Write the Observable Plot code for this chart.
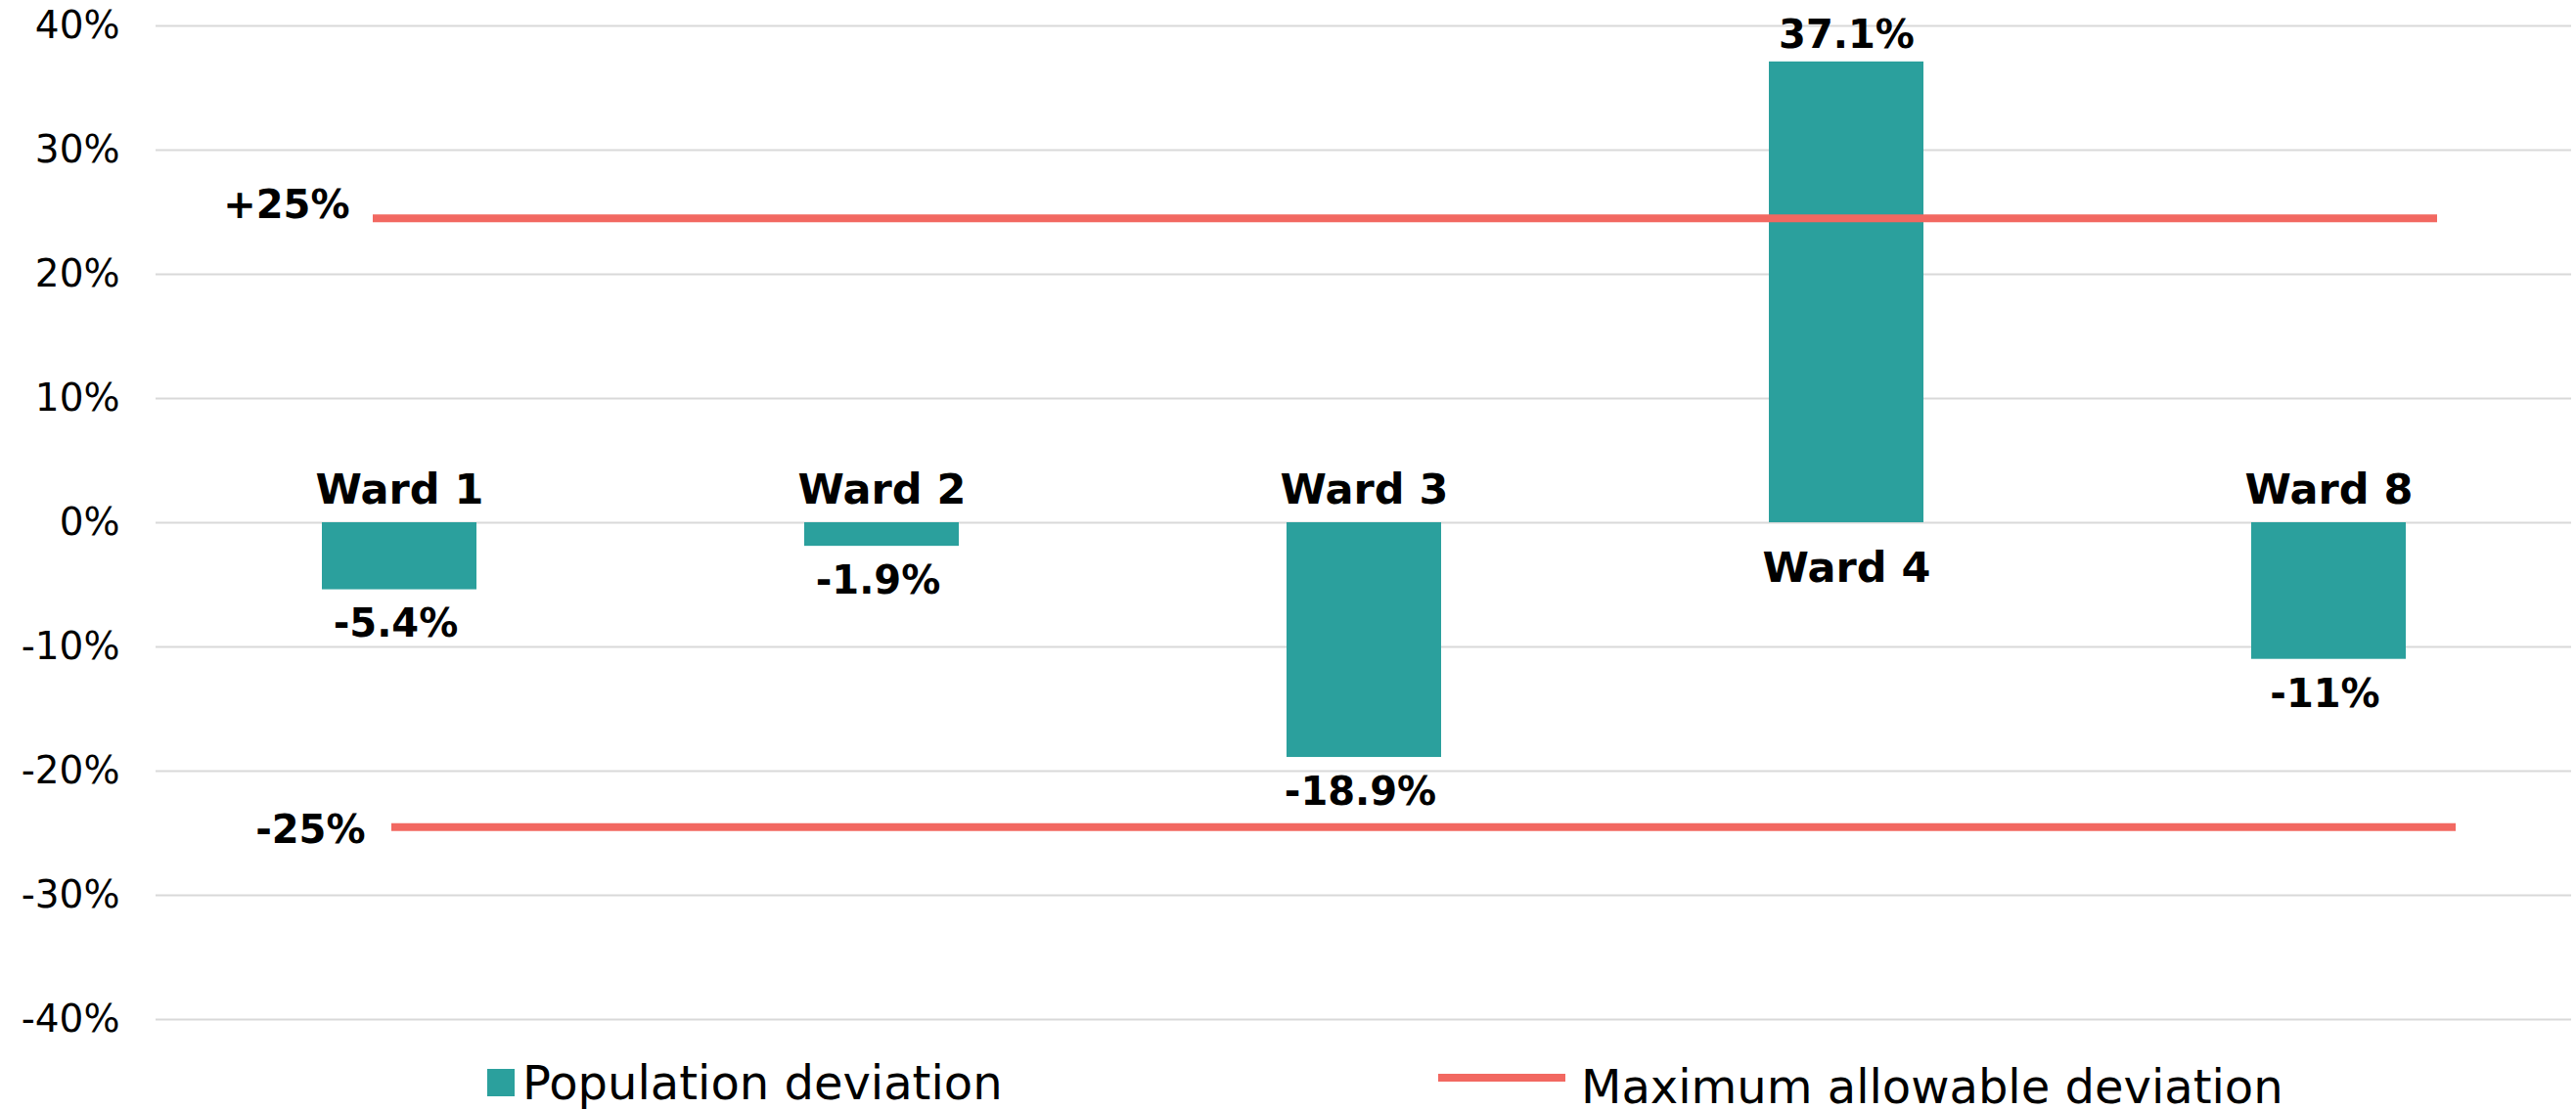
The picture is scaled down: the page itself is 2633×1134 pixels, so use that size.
<!DOCTYPE html>
<html>
<head>
<meta charset="utf-8">
<script src="https://cdn.jsdelivr.net/npm/d3@7"></script>
<script src="https://cdn.jsdelivr.net/npm/@observablehq/plot@0.6"></script>
<style>
html, body { margin: 0; padding: 0; background: #fff; overflow: hidden; }
body { position: relative; width: 2633px; height: 1134px; font-family: "DejaVu Sans", sans-serif; }
#chart svg { display: block; overflow: visible; }
#legend { position: absolute; left: 0; top: 0; width: 2633px; height: 1134px; pointer-events: none; }
.sw { position: absolute; }
.lt { position: absolute; font-size: 48px; line-height: 48px; white-space: nowrap; color: #000; }
</style>
</head>
<body>
<div id="chart"></div>
<div id="legend"></div>
<script>
// ---- data ----
const wards = ["Ward 1", "Ward 2", "Ward 3", "Ward 4", "Ward 8"];
const deviation = [-5.4, -1.9, -18.9, 37.1, -11];
const valueLabels = ["-5.4%", "-1.9%", "-18.9%", "37.1%", "-11%"];
const limitValues = [24.5, -24.5];
const limitLabels = ["+25%", "-25%"];
const yTicks = [-40, -30, -20, -10, 0, 10, 20, 30, 40];
const seriesNames = ["Population deviation", "Maximum allowable deviation"];

const barColor = "#2ba09d";
const lineColor = "#f26861";

const table = wards.map((w, i) => ({ward: w, value: deviation[i], label: valueLabels[i]}));
const limits = limitValues.map((v, i) => ({value: v, label: limitLabels[i]}));

const chart = Plot.plot({
  width: 2633,
  height: 1075,
  marginLeft: 159,
  marginRight: 5,
  marginTop: 26,
  marginBottom: 33,
  style: {fontFamily: "DejaVu Sans", background: "transparent", color: "#000", overflow: "visible"},
  x: {domain: wards, paddingInner: 0.68, paddingOuter: 0.34, axis: null},
  y: {domain: [-40, 40], label: null},
  marks: [
    Plot.gridY(yTicks, {stroke: "#d9d9d9", strokeOpacity: 1, strokeWidth: 2}),
    Plot.axisY(yTicks, {tickSize: 0, tickPadding: 37, fontSize: 39, tickFormat: d => d + "%", label: null}),
    Plot.barY(table, {x: "ward", y: "value", fill: barColor}),
    Plot.ruleY([limits[0]], {y: "value", stroke: lineColor, strokeWidth: 8, insetLeft: 222, insetRight: 137}),
    Plot.ruleY([limits[1]], {y: "value", stroke: lineColor, strokeWidth: 8, insetLeft: 241, insetRight: 118}),
    Plot.text([limits[0]], {y: "value", text: "label", frameAnchor: "left", dx: 198, textAnchor: "end", lineAnchor: "bottom", dy: 0, fontSize: 40, fontWeight: "bold", fill: "#000"}),
    Plot.text([limits[1]], {y: "value", text: "label", frameAnchor: "left", dx: 214, textAnchor: "end", lineAnchor: "bottom", dy: 16, fontSize: 40, fontWeight: "bold", fill: "#000"}),
    // ward labels
    Plot.text(table, {filter: d => d.value < 0, x: "ward", y: () => 0, text: "ward", lineAnchor: "bottom", dy: -20, fontSize: 43, fontWeight: "bold", fill: "#000"}),
    Plot.text(table, {filter: d => d.value >= 0, x: "ward", y: () => 0, text: "ward", lineAnchor: "top", dy: 30, fontSize: 43, fontWeight: "bold", fill: "#000"}),
    // value labels
    Plot.text(table, {filter: d => d.value < 0, x: "ward", y: "value", text: "label", lineAnchor: "top", dy: 20, dx: -4, fontSize: 40, fontWeight: "bold", fill: "#000"}),
    Plot.text(table, {filter: d => d.value >= 0, x: "ward", y: "value", text: "label", lineAnchor: "bottom", dy: -14, fontSize: 40, fontWeight: "bold", fill: "#000"})
  ]
});
document.getElementById("chart").appendChild(chart);

// ---- legend (below the plot area) ----
const legend = document.getElementById("legend");
legend.innerHTML = `
  <div class="sw" style="left:498px;top:1093px;width:28px;height:28px;background:${barColor}"></div>
  <div class="lt" style="left:534px;top:1083px">${seriesNames[0]}</div>
  <div class="sw" style="left:1470px;top:1098px;width:130px;height:8px;background:${lineColor}"></div>
  <div class="lt" style="left:1616px;top:1087px">${seriesNames[1]}</div>
`;
</script>
</body>
</html>
